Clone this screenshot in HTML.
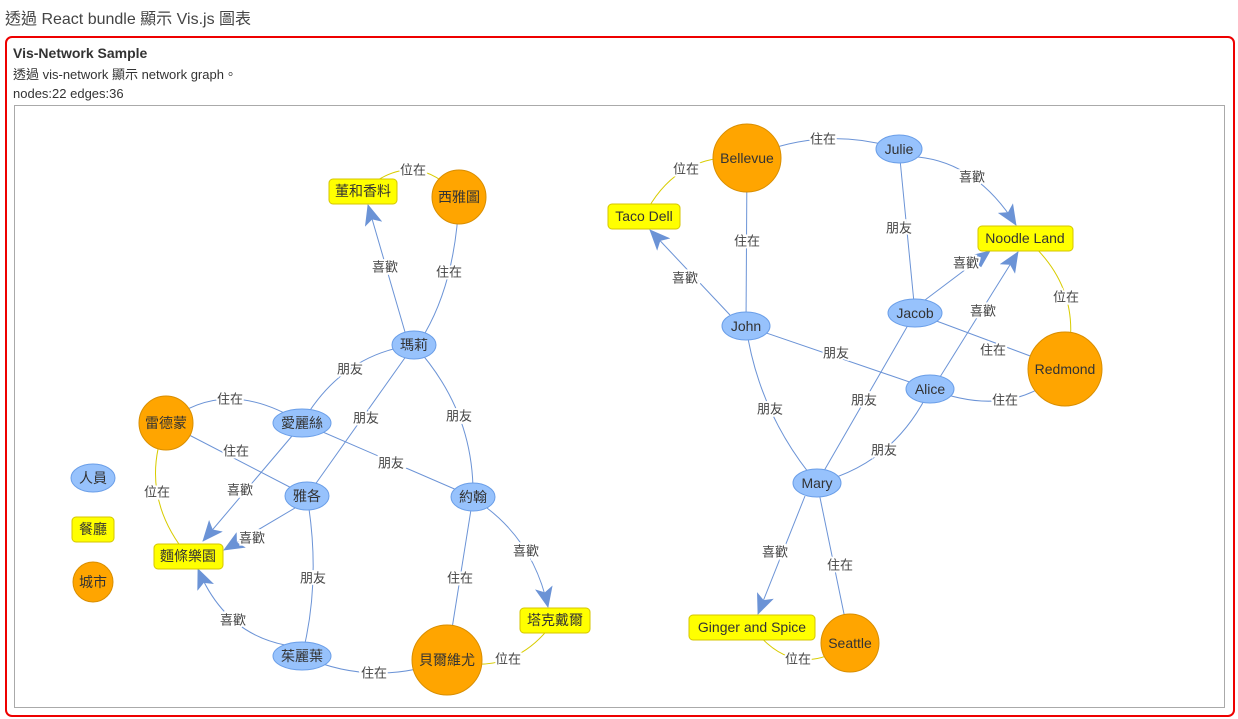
<!DOCTYPE html>
<html><head><meta charset="utf-8">
<style>
html,body{margin:0;padding:0;background:#fff;width:1238px;height:719px;overflow:hidden;font-family:"Liberation Sans","Noto Sans CJK TC",sans-serif;}
.sub{position:absolute;left:5px;top:5px;font-size:16px;color:#444;}
.box{position:absolute;left:5px;top:36px;width:1226px;height:677px;border:2px solid #e00;border-radius:7px;}
.t1{position:absolute;left:13px;top:45px;font-size:14px;font-weight:bold;color:#333;}
.t2{position:absolute;left:13px;top:64px;font-size:13px;color:#333;}
.t3{position:absolute;left:13px;top:86px;font-size:13px;color:#333;}
.inner{position:absolute;left:14px;top:105px;width:1209px;height:601px;border:1px solid #aaa;}
svg{position:absolute;left:0;top:0;}
.lb{font-size:13px;fill:#444;stroke:#fff;stroke-width:4px;paint-order:stroke;text-anchor:middle;dominant-baseline:central;}
.nt{font-size:14px;fill:#333;text-anchor:middle;dominant-baseline:central;}
.p{fill:#97C2FC;stroke:#6a9ee8;stroke-width:1;}
.c{fill:#FFA500;stroke:#d98e00;stroke-width:1;}
.r{fill:#FFFF00;stroke:#d4c600;stroke-width:1;}
</style></head><body>
<div class="sub">透過 React bundle 顯示 Vis.js 圖表</div>
<div class="box"></div>
<div class="t1">Vis-Network Sample</div>
<div class="t2">透過 vis-network 顯示 network graph。</div>
<div class="t3">nodes:22 edges:36</div>
<div class="inner"></div>
<svg width="1238" height="719" viewBox="0 0 1238 719" xmlns="http://www.w3.org/2000/svg">
<defs>
<marker id="ar" markerUnits="userSpaceOnUse" markerWidth="22" markerHeight="18" refX="20" refY="9" orient="auto">
<path d="M0,0 L21,9 L0,18 L5,9z" fill="#6b93d6"/>
</marker>
</defs>
<g id="edges" fill="none"></g>
<g id="labels">
<text class="lb" x="385" y="267">喜歡</text>
<text class="lb" x="449" y="272">住在</text>
<text class="lb" x="413" y="170">位在</text>
<text class="lb" x="350" y="369">朋友</text>
<text class="lb" x="366" y="418">朋友</text>
<text class="lb" x="459" y="416">朋友</text>
<text class="lb" x="230" y="399">住在</text>
<text class="lb" x="236" y="451">住在</text>
<text class="lb" x="391" y="463">朋友</text>
<text class="lb" x="240" y="490">喜歡</text>
<text class="lb" x="252" y="538">喜歡</text>
<text class="lb" x="157" y="492">位在</text>
<text class="lb" x="313" y="578">朋友</text>
<text class="lb" x="233" y="620">喜歡</text>
<text class="lb" x="460" y="578">住在</text>
<text class="lb" x="526" y="551">喜歡</text>
<text class="lb" x="374" y="673">住在</text>
<text class="lb" x="508" y="659">位在</text>
<text class="lb" x="823" y="139">住在</text>
<text class="lb" x="686" y="169">位在</text>
<text class="lb" x="972" y="177">喜歡</text>
<text class="lb" x="747" y="241">住在</text>
<text class="lb" x="685" y="278">喜歡</text>
<text class="lb" x="899" y="228">朋友</text>
<text class="lb" x="966" y="263">喜歡</text>
<text class="lb" x="983" y="311">喜歡</text>
<text class="lb" x="1066" y="297">位在</text>
<text class="lb" x="993" y="350">住在</text>
<text class="lb" x="836" y="353">朋友</text>
<text class="lb" x="1005" y="400">住在</text>
<text class="lb" x="770" y="409">朋友</text>
<text class="lb" x="864" y="400">朋友</text>
<text class="lb" x="884" y="450">朋友</text>
<text class="lb" x="775" y="552">喜歡</text>
<text class="lb" x="840" y="565">住在</text>
<text class="lb" x="798" y="659">位在</text>
</g>
<g id="nodes">
<rect class="r" x="329" y="179" width="68" height="25" rx="4"/><text class="nt" x="363" y="191">董和香料</text>
<circle class="c" cx="459" cy="197" r="27"/><text class="nt" x="459" y="197">西雅圖</text>
<ellipse class="p" cx="414" cy="345" rx="22" ry="14"/><text class="nt" x="414" y="345">瑪莉</text>
<circle class="c" cx="166" cy="423" r="27"/><text class="nt" x="166" y="423">雷德蒙</text>
<ellipse class="p" cx="302" cy="423" rx="29" ry="14"/><text class="nt" x="302" y="423">愛麗絲</text>
<ellipse class="p" cx="307" cy="496" rx="22" ry="14"/><text class="nt" x="307" y="496">雅各</text>
<ellipse class="p" cx="473" cy="497" rx="22" ry="14"/><text class="nt" x="473" y="497">約翰</text>
<rect class="r" x="154" y="544" width="69" height="25" rx="4"/><text class="nt" x="188" y="556">麵條樂園</text>
<ellipse class="p" cx="302" cy="656" rx="29" ry="14"/><text class="nt" x="302" y="656">茱麗葉</text>
<circle class="c" cx="447" cy="660" r="35"/><text class="nt" x="447" y="660">貝爾維尤</text>
<rect class="r" x="520" y="608" width="70" height="25" rx="4"/><text class="nt" x="555" y="620">塔克戴爾</text>
<ellipse class="p" cx="93" cy="478" rx="22" ry="14"/><text class="nt" x="93" y="478">人員</text>
<rect class="r" x="72" y="517" width="42" height="25" rx="4"/><text class="nt" x="93" y="529">餐廳</text>
<circle class="c" cx="93" cy="582" r="20"/><text class="nt" x="93" y="582">城市</text>
<circle class="c" cx="747" cy="158" r="34"/><text class="nt" x="747" y="158">Bellevue</text>
<ellipse class="p" cx="899" cy="149" rx="23" ry="14"/><text class="nt" x="899" y="149">Julie</text>
<rect class="r" x="608" y="204" width="72" height="25" rx="4"/><text class="nt" x="644" y="216">Taco Dell</text>
<rect class="r" x="978" y="226" width="95" height="25" rx="4"/><text class="nt" x="1025" y="238">Noodle Land</text>
<ellipse class="p" cx="746" cy="326" rx="24" ry="14"/><text class="nt" x="746" y="326">John</text>
<ellipse class="p" cx="915" cy="313" rx="27" ry="14"/><text class="nt" x="915" y="313">Jacob</text>
<ellipse class="p" cx="930" cy="389" rx="24" ry="14"/><text class="nt" x="930" y="389">Alice</text>
<circle class="c" cx="1065" cy="369" r="37"/><text class="nt" x="1065" y="369">Redmond</text>
<ellipse class="p" cx="817" cy="483" rx="24" ry="14"/><text class="nt" x="817" y="483">Mary</text>
<rect class="r" x="689" y="615" width="126" height="25" rx="4"/><text class="nt" x="752" y="627">Ginger and Spice</text>
<circle class="c" cx="850" cy="643" r="29"/><text class="nt" x="850" y="643">Seattle</text>
</g>
<script>
var B="#6b93d6",Y="#d8cc00";
var E=[
[405,332,368,205,385,267,B,1],[425,333,459,197,449,272,B,0],[363,191,459,197,413,170,Y,0],
[414,345,302,423,350,369,B,0],[414,345,307,496,366,418,B,0],[414,345,473,497,459,416,B,0],
[166,423,302,423,230,399,B,0],[166,423,307,496,236,451,B,0],[302,423,473,497,391,463,B,0],
[292,436,203,541,240,490,B,1],[295,508,224,550,252,538,B,1],[166,423,188,556,157,492,Y,0],
[307,496,302,656,313,578,B,0],[285,645,198,569,233,620,B,1],[473,497,447,660,460,578,B,0],
[487,508,548,607,526,551,B,1],[302,656,447,660,374,673,B,0],[447,660,555,620,508,659,Y,0],
[747,158,899,149,823,139,B,0],[644,216,747,158,686,169,Y,0],[918,157,1016,225,972,177,B,1],
[747,158,746,326,747,241,B,0],[730,315,650,230,685,278,B,1],[899,149,915,313,899,228,B,0],
[925,300,990,251,966,263,B,1],[940,377,1018,252,983,311,B,1],[1025,238,1065,369,1066,297,Y,0],
[915,313,1065,369,993,350,B,0],[746,326,930,389,836,353,B,0],[930,389,1065,369,1005,400,B,0],
[746,326,817,483,770,409,B,0],[915,313,817,483,864,400,B,0],[930,389,817,483,884,450,B,0],
[805,496,758,614,775,552,B,1],[817,483,850,643,840,565,B,0],[752,627,850,643,798,659,Y,0]];
var g=document.getElementById("edges"),ns="http://www.w3.org/2000/svg";
E.forEach(function(e){var mx=(e[0]+e[2])/2,my=(e[1]+e[3])/2,cx=2*e[4]-mx,cy=2*e[5]-my;
var dx=e[2]-e[0],dy=e[3]-e[1],L=Math.hypot(dx,dy),d=Math.abs((e[4]-e[0])*dy-(e[5]-e[1])*dx)/L;
if(d<8){cx=mx;cy=my;}
var p=document.createElementNS(ns,"path");
p.setAttribute("d","M"+e[0]+","+e[1]+" Q"+cx+","+cy+" "+e[2]+","+e[3]);
p.setAttribute("stroke",e[6]);p.setAttribute("stroke-width","1");
if(e[7])p.setAttribute("marker-end","url(#ar)");g.appendChild(p);});
</script>
</svg>
</body></html>
